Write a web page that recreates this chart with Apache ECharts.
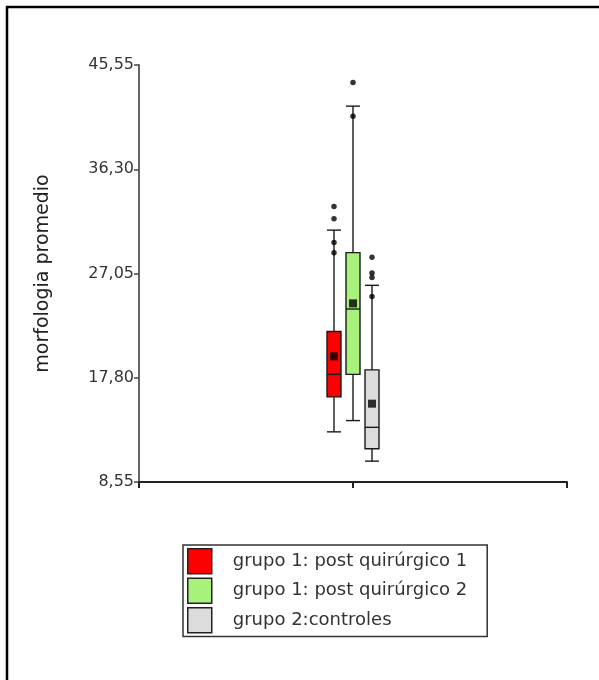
<!DOCTYPE html>
<html>
<head>
<meta charset="utf-8">
<script src="https://cdn.jsdelivr.net/npm/echarts@6/dist/echarts.min.js"></script>
<style>
  html, body { margin: 0; padding: 0; background: #fff; }
  #chart { width: 599px; height: 680px; }
</style>
</head>
<body>
<div id="chart"></div>
<script>
// group names and fills (legend order)
const groupNames = ["grupo 1: post quirúrgico 1", "grupo 1: post quirúrgico 2", "grupo 2:controles"];
const groupColors = ["#ff0000", "#a8f27c", "#dcdcdc"];

// box statistics per group: [min, Q1, median, Q3, max]
const boxStats = [
  [13.0, 16.1, 18.1, 21.9, 30.9],
  [14.0, 18.1, 23.9, 28.9, 41.9],
  [10.4, 11.5, 13.4, 18.5, 26.0]
];
const groupMeans = [19.7, 24.4, 15.5];
const groupOutliers = [
  [33.0, 31.9, 29.8, 28.9],
  [44.0, 41.0],
  [28.5, 27.1, 26.7, 25.0]
];

// y axis ticks
const yTicks = [8.55, 17.80, 27.05, 36.30, 45.55];

const font = "DejaVu Sans";
const boxWidth = 14;   // px
const dodge = 19;      // px between neighbouring boxes
const slot = 1;        // middle category of the x axis

const chart = echarts.init(document.getElementById("chart"));

// draws one box with whiskers, offset sideways by `shift` pixels
const makeBox = (shift) => (params, api) => {
  const x = api.value(0);
  const pMin = api.coord([x, api.value(1)]);
  const pQ1 = api.coord([x, api.value(2)]);
  const pMed = api.coord([x, api.value(3)]);
  const pQ3 = api.coord([x, api.value(4)]);
  const pMax = api.coord([x, api.value(5)]);
  const cx = pMin[0] + shift;
  const h = boxWidth / 2;
  const line = { stroke: "#1a1a1a", lineWidth: 1.4 };
  return {
    type: "group",
    children: [
      { type: "line", shape: { x1: cx, y1: pMax[1], x2: cx, y2: pQ3[1] }, style: line },
      { type: "line", shape: { x1: cx, y1: pMin[1], x2: cx, y2: pQ1[1] }, style: line },
      { type: "line", shape: { x1: cx - h, y1: pMax[1], x2: cx + h, y2: pMax[1] }, style: line },
      { type: "line", shape: { x1: cx - h, y1: pMin[1], x2: cx + h, y2: pMin[1] }, style: line },
      {
        type: "rect",
        shape: { x: cx - h, y: pQ3[1], width: boxWidth, height: pQ1[1] - pQ3[1] },
        style: { fill: api.visual("color"), stroke: "#1a1a1a", lineWidth: 1.4 }
      },
      { type: "line", shape: { x1: cx - h, y1: pMed[1], x2: cx + h, y2: pMed[1] }, style: line }
    ]
  };
};

const boxSeries = groupNames.map((name, i) => ({
  name: name,
  type: "custom",
  renderItem: makeBox((i - 1) * dodge),
  encode: { x: 0, y: [1, 2, 3, 4, 5] },
  itemStyle: { color: groupColors[i], borderColor: "#1a1a1a", borderWidth: 1 },
  data: [[slot].concat(boxStats[i])],
  z: 2
}));

const meanSeries = groupNames.map((name, i) => ({
  type: "scatter",
  symbol: "rect",
  symbolSize: 8,
  symbolOffset: [(i - 1) * dodge, 0],
  itemStyle: { color: "#000" },
  data: [[slot, groupMeans[i]]],
  silent: true,
  z: 3
}));

const outlierSeries = groupNames.map((name, i) => ({
  type: "scatter",
  symbol: "circle",
  symbolSize: 5.5,
  symbolOffset: [(i - 1) * dodge, 0],
  itemStyle: { color: "#000" },
  data: groupOutliers[i].map((v) => [slot, v]),
  silent: true,
  z: 3
}));

chart.setOption({
  animation: false,
  backgroundColor: "#fff",
  textStyle: { fontFamily: font },
  graphic: [
    { type: "line", shape: { x1: 6, y1: 7, x2: 599, y2: 7 }, style: { stroke: "#000", lineWidth: 2.5 } },
    { type: "line", shape: { x1: 7, y1: 6, x2: 7, y2: 680 }, style: { stroke: "#000", lineWidth: 2.5 } }
  ],
  grid: { left: 139, right: 32, top: 65, bottom: 198 },
  legend: {
    orient: "vertical",
    left: 183,
    top: 545,
    data: groupNames,
    icon: "rect",
    itemWidth: 24,
    itemHeight: 25,
    itemGap: 3,
    padding: [3, 20, 3, 4],
    borderColor: "#333",
    borderWidth: 1.5,
    itemStyle: { borderColor: "#222", borderWidth: 1.5 },
    textStyle: { fontFamily: font, fontSize: 18, color: "#333", padding: [0, 0, 0, 16] },
    selectedMode: false
  },
  xAxis: {
    type: "category",
    data: ["", "", ""],
    boundaryGap: false,
    axisLine: { lineStyle: { color: "#222", width: 2 } },
    axisTick: { show: true, length: 6, lineStyle: { color: "#222", width: 2 } },
    axisLabel: { show: false },
    splitLine: { show: false }
  },
  yAxis: {
    type: "value",
    min: yTicks[0],
    max: yTicks[yTicks.length - 1],
    interval: yTicks[1] - yTicks[0],
    name: "morfologia promedio",
    nameLocation: "middle",
    nameGap: 86,
    nameTextStyle: { fontFamily: font, fontSize: 19, color: "#222" },
    axisLine: { show: true, lineStyle: { color: "#666", width: 2 } },
    axisTick: { show: true, length: 5, lineStyle: { color: "#444", width: 1.5 } },
    axisLabel: {
      margin: 5,
      fontFamily: font,
      fontSize: 16,
      color: "#333",
      formatter: (v) => v.toFixed(2).replace(".", ",")
    },
    splitLine: { show: false }
  },
  series: boxSeries.concat(meanSeries, outlierSeries)
});
</script>
</body>
</html>
